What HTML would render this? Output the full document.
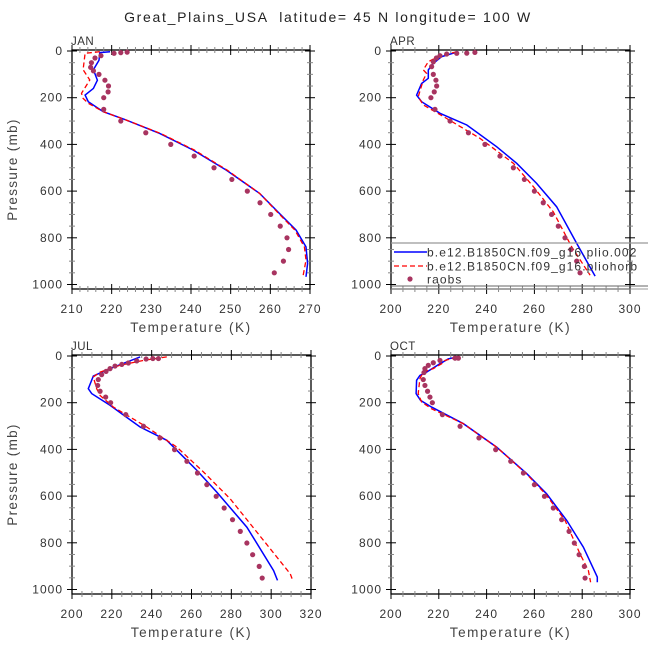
<!DOCTYPE html>
<html><head><meta charset="utf-8"><style>
html,body{margin:0;padding:0;background:#fff;}
svg{display:block;font-family:"Liberation Sans",sans-serif;}
text{white-space:pre;}
</style></head><body>
<svg id="chart" width="648" height="649" viewBox="0 0 648 649" xmlns="http://www.w3.org/2000/svg">
<text x="328" y="22" text-anchor="middle" font-size="14" letter-spacing="1.7" fill="#222">Great_Plains_USA  latitude= 45 N longitude= 100 W</text>
</svg>
<script>
// ---- data ----
const janRaobP=[5,7,10,20,30,50,70,85,100,125,150,175,200,250,300,350,400,450,500,550,600,650,700,750,800,850,900,950];
const janRaobT=[223.9,222.3,220.6,217.3,215.8,214.9,214.7,215.4,216.8,218.3,219.2,219.1,218,218,222.3,228.6,234.9,240.8,245.8,250.3,254.2,257.4,260.1,262.5,264.2,264.6,263.3,261.0];
const janBlueP=[3,7,40,80,125,160,189,217,260,296,353,424,510,610,696,767,839,910,967];
const janBlueT=[219.6,217,216.8,215.4,216.4,215.4,213.3,214.1,217.9,223.7,232.1,240.5,248.9,257.3,262.3,266.5,269,269.4,269];
const janRedP=[3,10,80,124,181,203,224,260,296,353,424,510,610,696,767,839,896,967];
const janRedT=[217,213.3,212.8,214.5,212.4,212.8,214.1,217.9,223.7,232.3,240.8,249.1,257.3,262.1,266.2,268.6,269,268.2];

const aprRaobP=[6,9,10,13,20,30,46,67,100,125,150,175,200,250,300,350,400,450,500,550,600,650,700,750,800,850,900,950];
const aprRaobT=[235.1,231.7,227.5,223.3,220.5,219,217.7,217,217.7,218.8,219.1,218.1,216.7,218.4,224.7,232.4,239.3,245.6,251.2,255.8,260,263.7,267.2,270,272.8,275.3,277.7,279.1];
const aprBlueP=[3,24,53,81,117,139,189,217,267,317,410,481,567,667,824,964];
const aprBlueT=[228.2,221.2,217.7,215.6,215.6,212.8,210.7,212.8,220.5,231.7,244.2,252.6,260.9,269.3,277.7,285.4];
const aprRedP=[3,24,46,81,96,124,196,231,289,374,481,581,689,839,960];
const aprRedT=[227.5,219.8,215.6,213.5,214.9,213.5,211.4,213.5,223.3,237.2,251.2,259.6,267.9,275.6,283.3];

const julRaobP=[11,11,13,21,30,36,43,54,66,80,101,126,151,176,200,251,301,351,401,451,501,551,601,651,701,751,801,851,901,951];
const julRaobT=[243.4,240.6,237.2,232.5,228.3,225,221.6,219.1,217.1,214.9,213.2,212.9,214.1,216.9,219.4,227,235.9,244.2,251.5,257.7,263,267.7,272.4,276.4,280.6,284.5,287.8,290.7,294,295.5];
const julBlueP=[4,26,54,86,140,161,211,304,361,490,583,733,919,961];
const julBlueT=[234.2,227.5,219.1,210.7,208.2,209.9,219.1,234.2,247.6,262.7,272.7,287.8,301.2,303.2];
const julRedP=[4,19,40,69,90,140,169,219,304,390,497,611,790,933,961];
const julRedT=[247.6,235.9,224.1,214.1,210.7,212.4,214.1,220.8,237.5,252.6,266,279.4,296.2,309.6,310.8];

const octRaobP=[9,9,19,29,40,54,71,101,126,151,176,200,251,301,351,401,451,501,551,601,651,701,751,801,851,901,951];
const octRaobT=[228.2,226.8,220.5,217.7,215.6,214.2,213.8,213.5,214.2,215.3,216.3,217.3,221.5,228.9,236.8,243.8,250.1,255.4,260,264.2,267.9,271.4,274.5,276.7,278.7,280.9,281.2];
const octBlueP=[4,12,33,69,83,104,161,190,219,290,390,504,590,704,819,947,969];
const octBlueT=[228.2,224,220.5,214.9,212.1,210.7,210.5,212.4,217,230.3,244.2,256.8,265.1,273.5,280.5,286.3,286.3];
const octRedP=[6,19,33,54,69,97,161,197,226,290,390,504,590,704,847,919,969];
const octRedT=[227.5,222.6,221.2,217.7,213.5,212.1,211.4,212.8,217,230.3,244.2,256.6,264.6,272.8,279.1,282.6,283.5];

const xTicksJan=[210,220,230,240,250,260,270];
const xTicks200=[200,220,240,260,280,300];
const xTicksJul=[200,220,240,260,280,300,320];
const yTicks=[0,200,400,600,800,1000];
const legendLabels=["b.e12.B1850CN.f09_g16.plio.002","b.e12.B1850CN.f09_g16.pliohorb","raobs"];

const NS="http://www.w3.org/2000/svg";
const svg=document.getElementById('chart');
function mk(tag,attrs,parent){const e=document.createElementNS(NS,tag);for(const k in attrs)e.setAttribute(k,attrs[k]);(parent||svg).appendChild(e);return e;}

function panel(o){
  const g=mk('g',{});
  
  
  const L=o.x0,R=o.x1,T=o.y0,B=o.y1;
  const xs=v=>L+(v-o.xmin)/(o.xmax-o.xmin)*(R-L);
  const p0=T+1, p1000=B-4.5;
  const ys=p=>p0+p/1000*(p1000-p0);
  const box=mk('rect',{x:L,y:T,width:R-L,height:B-T,fill:'none',stroke:'#000','stroke-width':1.3},g);
  
  
  for(let v=o.xmin;v<=o.xmax+1e-6;v+=o.minor){
    const isMaj=Math.abs((v-o.xmin)/o.major-Math.round((v-o.xmin)/o.major))<1e-6;
    const x=xs(v), len=isMaj?5:3;
    mk('line',{x1:x,x2:x,y1:B-len,y2:B+len,stroke:isMaj?'#000':'#888','stroke-width':1},g);
    mk('line',{x1:x,x2:x,y1:T-len,y2:T+len,stroke:isMaj?'#000':'#888','stroke-width':1},g);
  }
  o.xt.forEach(v=>{
    const t=mk('text',{x:xs(v),y:B+24,'text-anchor':'middle','font-size':12,'letter-spacing':1,fill:'#333'},g);
    t.textContent=v;
    
    
  });
  for(let p=0;p<=1000;p+=50){
    const isMaj=p%200===0, y=ys(p), len=isMaj?5:3;
    mk('line',{x1:L-len,x2:L+len,y1:y,y2:y,stroke:isMaj?'#000':'#888','stroke-width':1},g);
    mk('line',{x1:R-len,x2:R+len,y1:y,y2:y,stroke:isMaj?'#000':'#888','stroke-width':1},g);
  }
  yTicks.forEach(p=>{
    const t=mk('text',{x:L-9,y:ys(p)+4,'text-anchor':'end','font-size':12,'letter-spacing':1,fill:'#333'},g);
    t.textContent=p;
    
    
  });
  const xl=mk('text',{x:(L+R)/2,y:B+43,'text-anchor':'middle','font-size':13.5,'letter-spacing':1.6,fill:'#444'},g);
  xl.textContent='Temperature (K)';
  
  
  if(o.ylab){
    const yl=mk('text',{x:0,y:0,'text-anchor':'middle','font-size':13.5,'letter-spacing':1.3,fill:'#444',transform:`translate(17,${(T+B)/2}) rotate(-90)`},g);
    yl.textContent='Pressure (mb)';
    
    
  }
  const mt=mk('text',{x:L-1,y:T-5,'font-size':11.5,'letter-spacing':0.5,fill:'#333'},g);
  mt.textContent=o.label;
  
  
  const path=(P,Tv)=>P.map((p,i)=>(i?'L':'M')+xs(Tv[i]).toFixed(1)+','+ys(p).toFixed(1)).join(' ');
  const bl=mk('path',{d:path(o.bp,o.bt),fill:'none',stroke:'#0000ff','stroke-width':1.5},g);
  
  
  const rl=mk('path',{d:path(o.rp,o.rt),fill:'none',stroke:'#ff0000','stroke-width':1.3,'stroke-dasharray':'5,3'},g);
  
  
  o.op.forEach((p,i)=>{
    const c=mk('circle',{cx:xs(o.ot[i]),cy:ys(p),r:2.6,fill:'#a83460'},g);
    
    
  });
}
panel({name:'jan',label:'JAN',x0:72,x1:310,y0:50,y1:289,xmin:210,xmax:270,major:10,minor:2,xt:xTicksJan,ylab:true,bp:janBlueP,bt:janBlueT,rp:janRedP,rt:janRedT,op:janRaobP,ot:janRaobT});
panel({name:'apr',label:'APR',x0:391,x1:630,y0:50,y1:289,xmin:200,xmax:300,major:20,minor:5,xt:xTicks200,ylab:false,bp:aprBlueP,bt:aprBlueT,rp:aprRedP,rt:aprRedT,op:aprRaobP,ot:aprRaobT});
panel({name:'jul',label:'JUL',x0:72,x1:311,y0:355,y1:594,xmin:200,xmax:320,major:20,minor:5,xt:xTicksJul,ylab:true,bp:julBlueP,bt:julBlueT,rp:julRedP,rt:julRedT,op:julRaobP,ot:julRaobT});
panel({name:'oct',label:'OCT',x0:391,x1:630,y0:355,y1:594,xmin:200,xmax:300,major:20,minor:5,xt:xTicks200,ylab:false,bp:octBlueP,bt:octBlueT,rp:octRedP,rt:octRedT,op:octRaobP,ot:octRaobT});

// legend (transparent, overlays APR panel)
const lg=mk('g',{});


mk('line',{x1:391,x2:648,y1:243,y2:243,stroke:'#999','stroke-width':1.2},lg);
mk('line',{x1:391,x2:648,y1:286,y2:286,stroke:'#666','stroke-width':1},lg);
mk('line',{x1:391,x2:648,y1:289,y2:289,stroke:'#999','stroke-width':1},lg);
const ly=[252,266,279];
const e0=mk('line',{x1:394,x2:427,y1:ly[0],y2:ly[0],stroke:'#0000ff','stroke-width':1.5},lg);


const e1=mk('line',{x1:394,x2:427,y1:ly[1],y2:ly[1],stroke:'#ff0000','stroke-width':1.3,'stroke-dasharray':'5,3'},lg);


const e2=mk('circle',{cx:410,cy:ly[2],r:2.6,fill:'#a83460'},lg);


legendLabels.forEach((s,i)=>{
  const t=mk('text',{x:427,y:ly[i]+4.5,'font-size':12,'letter-spacing':1.1,fill:'#333'},lg);
  t.textContent=s;
  
  
});
</script>
</body></html>
